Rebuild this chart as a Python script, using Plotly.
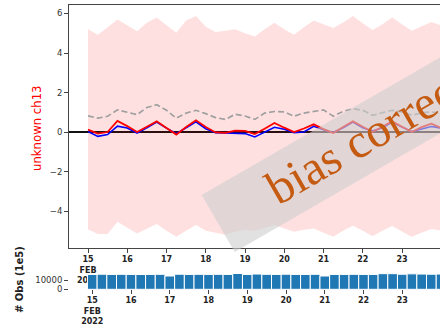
import pandas as pd
import plotly.graph_objects as go

# 6-hourly analysis cycles, 15-24 Feb 2022
times = pd.date_range("2022-02-15 00:00", periods=37, freq="6h")

# mean departures for channel 13
red_mean = [0.12, -0.08, 0.0, 0.56, 0.30, 0.0, 0.27, 0.54, 0.20, -0.13, 0.25, 0.59,
            0.25, -0.02, -0.04, 0.07, 0.06, -0.10, 0.17, 0.46, 0.22, 0.0, 0.18, 0.39,
            0.15, -0.05, 0.25, 0.54, 0.27, 0.0, 0.27, 0.54, 0.27, 0.0, 0.25, 0.42, 0.20]
blue_mean = [0.03, -0.22, -0.13, 0.30, 0.20, -0.05, 0.22, 0.50, 0.20, -0.08, 0.22, 0.52,
             0.17, -0.03, -0.05, -0.05, -0.08, -0.25, 0.0, 0.24, 0.14, -0.03, 0.0, 0.29,
             0.12, -0.02, 0.22, 0.50, 0.22, 0.05, 0.22, 0.50, 0.25, 0.02, 0.15, 0.28, 0.20]
std_dev = [0.82, 0.70, 0.80, 1.12, 1.00, 0.88, 1.24, 1.38, 1.10, 0.70, 0.96, 1.10,
           0.93, 0.73, 0.64, 0.90, 0.81, 0.64, 0.96, 1.04, 1.02, 0.80, 0.96, 1.05,
           1.12, 0.80, 1.05, 1.18, 1.10, 0.85, 0.97, 1.10, 1.02, 0.85, 0.97, 1.02, 0.95]
env_max = [5.20, 4.93, 5.30, 5.70, 5.40, 5.10, 5.53, 5.80, 5.40, 5.03, 5.64, 5.87,
           5.33, 5.06, 5.13, 5.20, 5.00, 4.83, 5.20, 5.53, 5.20, 4.93, 5.30, 5.64,
           5.45, 5.27, 5.55, 5.87, 5.50, 5.16, 5.45, 5.80, 5.45, 5.13, 5.35, 5.57, 5.40]
env_min = [-4.93, -5.16, -5.16, -4.54, -4.85, -5.13, -4.90, -4.66, -5.00, -5.30, -5.00, -4.71,
           -5.00, -5.10, -5.20, -5.05, -4.95, -5.00, -4.85, -4.71, -4.88, -5.05, -4.95, -4.88,
           -5.10, -5.30, -5.00, -4.74, -5.00, -5.27, -5.00, -4.76, -5.03, -5.30, -5.10, -4.91, -5.00]
n_obs = [16000, 16200, 16000, 16100, 16000, 15900, 16000, 16100, 14300, 16200, 16000, 16100,
         16000, 16100, 16000, 17000, 16000, 16400, 16100, 16000, 16200, 16000, 16000, 16100,
         14300, 16000, 16000, 16100, 16000, 16000, 16800, 16800, 16200, 16600, 16400, 16200, 16400]

day_ticks = pd.date_range("2022-02-15", "2022-02-24", freq="D")
day_text = [f"{d.day}<br>FEB<br>2022" if i in (0, len(day_ticks) - 1) else str(d.day)
            for i, d in enumerate(day_ticks)]

W, H = 440, 326
def fx(p):
    return p / W
def fy(p):
    return 1 - p / H

day0 = pd.Timestamp("2022-02-15")
top_range = [day0 - pd.Timedelta(days=(88 - 68.5) / 39.25), day0 + pd.Timedelta(days=(440 - 88) / 39.25)]
bot_range = [day0 - pd.Timedelta(days=(92.3 - 68.5) / 38.75), day0 + pd.Timedelta(days=(440 - 92.3) / 38.75)]

AX = "#444444"
FONT = "DejaVu Sans"

fig = go.Figure()
fig.add_trace(go.Scatter(x=times, y=env_max, mode="lines", line=dict(color="rgba(0,0,0,0)"),
                         showlegend=False, hoverinfo="skip"))
fig.add_trace(go.Scatter(x=times, y=env_min, mode="lines", line=dict(color="rgba(0,0,0,0)"),
                         fill="tonexty", fillcolor="rgba(255,0,0,0.12)", showlegend=False))
fig.add_trace(go.Scatter(x=times, y=std_dev, mode="lines",
                         line=dict(color="#a0a0a0", width=1.7, dash="6px,3px"), showlegend=False))
fig.add_trace(go.Scatter(x=times, y=blue_mean, mode="lines",
                         line=dict(color="#0000ff", width=1.6), showlegend=False))
fig.add_trace(go.Scatter(x=times, y=red_mean, mode="lines",
                         line=dict(color="#ff0000", width=1.8), showlegend=False))
fig.add_trace(go.Bar(x=times, y=n_obs, width=6 * 3600 * 1000, marker=dict(color="#1f77b4",
                     line=dict(color="white", width=1)), showlegend=False, xaxis="x2", yaxis="y2"))

fig.update_layout(
    width=W, height=H, margin=dict(l=0, r=0, t=0, b=0),
    paper_bgcolor="white", plot_bgcolor="rgba(0,0,0,0)", template="none",
    font=dict(family=FONT, color="#333333"),
    xaxis=dict(domain=[fx(68.5), 1], range=top_range, type="date", showgrid=False,
               tickvals=day_ticks, ticktext=day_text, ticks="outside", ticklen=3.5,
               tickcolor=AX, tickfont=dict(size=8, weight="bold", color="#222222"),
               showline=True, linecolor=AX, linewidth=1, mirror=True, automargin=False,
               zeroline=False, anchor="y"),
    yaxis=dict(domain=[fy(248), fy(5)], range=[-5.87, 6.43], showgrid=False,
               tickvals=[-4, -2, 0, 2, 4, 6], ticktext=["\u22124", "\u22122", "0", "2", "4", "6"],
               ticks="outside", ticklen=3.5, tickcolor=AX, tickfont=dict(size=8.5, color="#333333"),
               showline=True, linecolor=AX, linewidth=1, automargin=False,
               zeroline=True, zerolinecolor="#111111", zerolinewidth=1.6, anchor="x"),
    xaxis2=dict(domain=[fx(68.5), 1], range=bot_range, type="date", showgrid=False,
                tickvals=day_ticks, ticktext=day_text, ticks="outside", ticklen=3.5,
                tickcolor=AX, tickfont=dict(size=8, weight="bold", color="#222222"),
                showline=False, automargin=False, zeroline=False, anchor="y2"),
    yaxis2=dict(domain=[fy(289.3), fy(270.7)], range=[0, 20000], showgrid=False,
                tickvals=[0, 10000], ticktext=["0", "10000"], ticks="outside", ticklen=3.5,
                tickcolor=AX, tickfont=dict(size=8.5, color="#333333"),
                showline=False, zeroline=False, automargin=False, anchor="x2"),
)

fig.add_annotation(text="unknown ch13", x=fx(37), y=fy(128), xref="paper", yref="paper",
                   xanchor="center", yanchor="middle",
                   textangle=-90, showarrow=False, font=dict(size=11.7, color="#ff0000", family=FONT))
fig.add_annotation(text="# Obs (1e5)", x=fx(19), y=fy(280), xref="paper", yref="paper",
                   xanchor="center", yanchor="middle",
                   textangle=-90, showarrow=False,
                   font=dict(size=10, color="#222222", family=FONT, weight="bold"))

# "bias corrected" watermark: translucent band along a 30 degree diagonal
a = (201.7, 195.0)
b = (234.7, 252.0)
ext = 420
dxy = (0.866 * ext, -0.5 * ext)
pts = [a, b, (b[0] + dxy[0], b[1] + dxy[1]), (a[0] + dxy[0], a[1] + dxy[1])]
path = "M " + " L ".join(f"{fx(p[0]):.5f},{fy(p[1]):.5f}" for p in pts) + " Z"
fig.add_shape(type="path", path=path, xref="paper", yref="paper", layer="above",
              fillcolor="rgba(205,205,205,0.6)", line=dict(width=0))
fig.add_annotation(text="bias corrected", x=fx(386), y=fy(124.5), xref="paper", yref="paper",
                   xanchor="center", yanchor="middle",
                   textangle=-30, showarrow=False,
                   font=dict(size=48, color="#c55a11", family="Liberation Serif"))

fig.write_html("out.html")
